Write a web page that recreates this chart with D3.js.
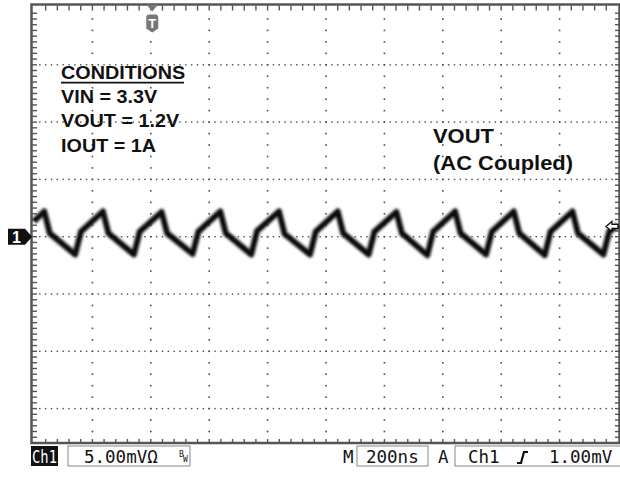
<!DOCTYPE html>
<html>
<head>
<meta charset="utf-8">
<script src="https://cdn.jsdelivr.net/npm/d3@7"></script>
<style>
  html, body { margin: 0; padding: 0; background: #fff; }
  svg { display: block; }
</style>
</head>
<body>
<svg id="chart" width="620" height="494"></svg>
<script>
// ---------------- DATA ----------------
// Time axis: 200 ns/div, 10 divisions
const timeDomainNs = [0, 2000];
// Vertical: 5.00 mV/div, 8 divisions, ground marker at centre
const voltDomainMv = [-20, 20];

// VOUT ripple trace (AC coupled)
const traceTimeNs = [
  0, 35, 54, 141, 161,
  236, 255, 342, 362,
  437, 456, 543, 563,
  638, 657, 744, 764,
  839, 858, 945, 965,
  1040, 1059, 1146, 1166,
  1241, 1260, 1347, 1367,
  1442, 1461, 1548, 1568,
  1643, 1662, 1749, 1769,
  1844, 1863, 1950, 1970,
  2000
];
const traceMv = [
  1.35, 2.2, 0.3, -1.55, 0.45,
  2.2, 0.3, -1.55, 0.45,
  2.15, 0.3, -1.5, 0.45,
  2.2, 0.3, -1.55, 0.5,
  2.2, 0.25, -1.55, 0.45,
  2.2, 0.3, -1.55, 0.45,
  2.15, 0.3, -1.6, 0.45,
  2.2, 0.3, -1.55, 0.45,
  2.2, 0.3, -1.6, 0.45,
  2.2, 0.3, -1.55, 0.45,
  1.0
];

const conditionsTitle = "CONDITIONS";
const conditionsLines = ["VIN = 3.3V", "VOUT = 1.2V", "IOUT = 1A"];
const traceLabelLines = ["VOUT", "(AC Coupled)"];

const channelLabel = "Ch1";
const voltsPerDiv = "5.00mV";
const timePerDiv = "200ns";
const triggerSource = "Ch1";
const triggerLevel = "1.00mV";
const triggerTimeNs = 405;   // trigger point (T marker)
const triggerLevelMv = 0.9;  // trigger level arrow on right edge

// ---------------- LAYOUT ----------------
const svg = d3.select("#chart");
const X0 = 34, X1 = 618;
const YTOP = 7.5, YBOT = 465.9;   // full 8-division span
const FRAME_BOTTOM = 443;         // visible graticule bottom

const x = d3.scaleLinear().domain(timeDomainNs).range([X0, X1]);
const y = d3.scaleLinear().domain(voltDomainMv).range([YBOT, YTOP]);

const divX = (X1 - X0) / 10;
const divY = (YBOT - YTOP) / 8;
const gridCol = "#4a4a4a";

const g = svg.append("g");

// graticule dotted columns
const colTimes = d3.range(1, 10).map(i => i * 200);
colTimes.forEach(t => {
  const cx = x(t);
  const ys = d3.range(YTOP + divY / 5, FRAME_BOTTOM - 1, divY / 5);
  g.selectAll(null).data(ys).enter().append("rect")
    .attr("x", cx - 0.8).attr("y", d => d - 0.8)
    .attr("width", 1.6).attr("height", 1.6).attr("fill", gridCol);
});
// graticule dotted rows
const rowVolts = d3.range(-3, 4).map(j => j * 5);
rowVolts.forEach(v => {
  const cy = y(v);
  if (cy > FRAME_BOTTOM) return;
  const xs = d3.range(X0 + divX / 10, X1 - 1, divX / 10);
  g.selectAll(null).data(xs).enter().append("rect")
    .attr("x", d => d - 0.7).attr("y", cy - 0.7)
    .attr("width", 1.4).attr("height", 1.4).attr("fill", gridCol);
});

// frame
const frame = svg.append("g");
frame.append("rect").attr("x", X0 - 2.5).attr("y", YTOP - 3)
  .attr("width", X1 - X0 + 4).attr("height", FRAME_BOTTOM - YTOP + 3)
  .attr("fill", "none").attr("stroke", "#555").attr("stroke-width", 2.5);

// edge ticks: top and bottom every 0.2 div
const xt = d3.range(X0 + divX / 5, X1 - 1, divX / 5);
frame.selectAll(null).data(xt).enter().append("line")
  .attr("x1", d => d).attr("x2", d => d)
  .attr("y1", YTOP - 2).attr("y2", YTOP + 3)
  .attr("stroke", "#555").attr("stroke-width", 1.4);
frame.selectAll(null).data(xt).enter().append("line")
  .attr("x1", d => d).attr("x2", d => d)
  .attr("y1", FRAME_BOTTOM - 4).attr("y2", FRAME_BOTTOM)
  .attr("stroke", "#555").attr("stroke-width", 1.4);
// left and right edges every 0.1 div
const yt = d3.range(YTOP + divY / 10, FRAME_BOTTOM - 1, divY / 10);
frame.selectAll(null).data(yt).enter().append("line")
  .attr("x1", X0 - 2).attr("x2", X0 + 3)
  .attr("y1", d => d).attr("y2", d => d)
  .attr("stroke", "#555").attr("stroke-width", 1.4);
frame.selectAll(null).data(yt).enter().append("line")
  .attr("x1", X1 - 3).attr("x2", X1 + 1)
  .attr("y1", d => d).attr("y2", d => d)
  .attr("stroke", "#555").attr("stroke-width", 1.4);

// ---------------- TRACE ----------------
const defs = svg.append("defs");
defs.append("filter").attr("id", "blur").attr("x", "-5%").attr("y", "-20%")
  .attr("width", "110%").attr("height", "140%")
  .append("feGaussianBlur").attr("stdDeviation", 1.0);

const line = d3.line()
  .x((d, i) => x(traceTimeNs[i]))
  .y(d => y(d));

const tr = svg.append("g").attr("filter", "url(#blur)");
tr.append("path").attr("d", line(traceMv))
  .attr("fill", "none").attr("stroke", "#444").attr("stroke-width", 7.5)
  .attr("stroke-linejoin", "round").attr("opacity", 0.55);
tr.append("path").attr("d", line(traceMv))
  .attr("fill", "none").attr("stroke", "#111").attr("stroke-width", 5)
  .attr("stroke-linejoin", "round");

// ---------------- ANNOTATIONS ----------------
const font = "'Liberation Sans', Arial, sans-serif";
const cond = svg.append("g").attr("transform", "translate(61,0) scale(1.07,1)");
cond.append("text").attr("x", 0).attr("y", 79.3)
  .attr("font-family", font).attr("font-weight", "bold").attr("font-size", 18.5)
  .attr("fill", "#111").text(conditionsTitle);
const tw = 123 / 1.07;
cond.append("line").attr("x1", 0).attr("x2", tw).attr("y1", 82.6).attr("y2", 82.6)
  .attr("stroke", "#111").attr("stroke-width", 1.8);
cond.selectAll(null).data(conditionsLines).enter().append("text")
  .attr("x", 0).attr("y", (d, i) => 103.3 + i * 24.2)
  .attr("font-family", font).attr("font-weight", "bold").attr("font-size", 18.5)
  .attr("fill", "#111").text(d => d);

const lab = svg.append("g").attr("transform", "translate(433,0) scale(1.07,1)");
lab.selectAll(null).data(traceLabelLines).enter().append("text")
  .attr("x", 0).attr("y", (d, i) => 143.5 + i * 27)
  .attr("font-family", font).attr("font-weight", "bold").attr("font-size", 20.5)
  .attr("fill", "#111").text(d => d);

// ---------------- MARKERS ----------------
// channel 1 ground marker
const gy = y(0);
svg.append("path")
  .attr("d", `M8,${gy - 8} L25,${gy - 8} L32,${gy} L25,${gy + 8} L8,${gy + 8} Z`)
  .attr("fill", "#111");
svg.append("text").attr("x", 16.5).attr("y", gy + 6).attr("text-anchor", "middle")
  .attr("font-family", font).attr("font-weight", "bold").attr("font-size", 16)
  .attr("fill", "#fff").text("1");

// trigger position marker (top)
const tx = x(triggerTimeNs);
svg.append("path")
  .attr("d", `M${tx - 6},${YTOP - 3} L${tx + 6},${YTOP - 3} L${tx},${YTOP + 4} Z`)
  .attr("fill", "#777");
svg.append("path")
  .attr("d", `M${tx - 6},${YTOP + 10} Q${tx - 6},${YTOP + 7} ${tx - 3},${YTOP + 7} L${tx + 3},${YTOP + 7} Q${tx + 6},${YTOP + 7} ${tx + 6},${YTOP + 10} L${tx + 6},${YTOP + 21} L${tx},${YTOP + 25} L${tx - 6},${YTOP + 21} Z`)
  .attr("fill", "#777");
svg.append("text").attr("x", tx).attr("y", YTOP + 20).attr("text-anchor", "middle")
  .attr("font-family", font).attr("font-weight", "bold").attr("font-size", 13)
  .attr("fill", "#fff").text("T");

// trigger level arrow (right edge)
const ly = y(triggerLevelMv);
svg.append("path")
  .attr("d", `M${X1 - 12},${ly} L${X1 - 6},${ly - 5} L${X1 - 6},${ly - 2} L${X1},${ly - 2} L${X1},${ly + 2} L${X1 - 6},${ly + 2} L${X1 - 6},${ly + 5} Z`)
  .attr("fill", "#fff").attr("stroke", "#111").attr("stroke-width", 1.3);

// ---------------- STATUS BAR ----------------
const mono = "'DejaVu Sans Mono', monospace";
const fs = 17.5;
const sb = svg.append("g");
const sy = 463;
sb.append("rect").attr("x", 31).attr("y", 446).attr("width", 27).attr("height", 20).attr("fill", "#111");
sb.append("text").attr("x", 44.5).attr("y", sy).attr("text-anchor", "middle")
  .attr("font-family", mono).attr("font-size", fs)
  .attr("textLength", 25).attr("lengthAdjust", "spacingAndGlyphs")
  .attr("fill", "#fff").text(channelLabel);
sb.append("rect").attr("x", 68).attr("y", 446).attr("width", 122).attr("height", 20)
  .attr("fill", "none").attr("stroke", "#888").attr("stroke-width", 1);
sb.append("text").attr("x", 84).attr("y", sy).attr("font-family", mono).attr("font-size", fs)
  .attr("fill", "#111").text(voltsPerDiv + "\u03A9");
sb.append("text").attr("x", 179).attr("y", sy - 6).attr("font-family", mono).attr("font-size", 8)
  .attr("fill", "#111").text("B");
sb.append("text").attr("x", 183).attr("y", sy - 1).attr("font-family", mono).attr("font-size", 8)
  .attr("fill", "#111").text("W");

sb.append("text").attr("x", 343).attr("y", sy).attr("font-family", mono).attr("font-size", fs)
  .attr("fill", "#111").text("M");
sb.append("rect").attr("x", 357).attr("y", 446).attr("width", 71).attr("height", 20)
  .attr("fill", "none").attr("stroke", "#888").attr("stroke-width", 1);
sb.append("text").attr("x", 366).attr("y", sy).attr("font-family", mono).attr("font-size", fs)
  .attr("fill", "#111").text(timePerDiv);

sb.append("text").attr("x", 438).attr("y", sy).attr("font-family", mono).attr("font-size", fs)
  .attr("fill", "#111").text("A");
sb.append("rect").attr("x", 455).attr("y", 446).attr("width", 170).attr("height", 20)
  .attr("fill", "none").attr("stroke", "#888").attr("stroke-width", 1);
sb.append("text").attr("x", 468).attr("y", sy).attr("font-family", mono).attr("font-size", fs)
  .attr("fill", "#111").text(triggerSource);
sb.append("path").attr("d", `M517,${sy} L521,${sy} L524,${sy - 11} L528,${sy - 11}`)
  .attr("fill", "none").attr("stroke", "#111").attr("stroke-width", 2.2);
sb.append("text").attr("x", 549).attr("y", sy).attr("font-family", mono).attr("font-size", fs)
  .attr("fill", "#111").text(triggerLevel);
</script>
</body>
</html>
